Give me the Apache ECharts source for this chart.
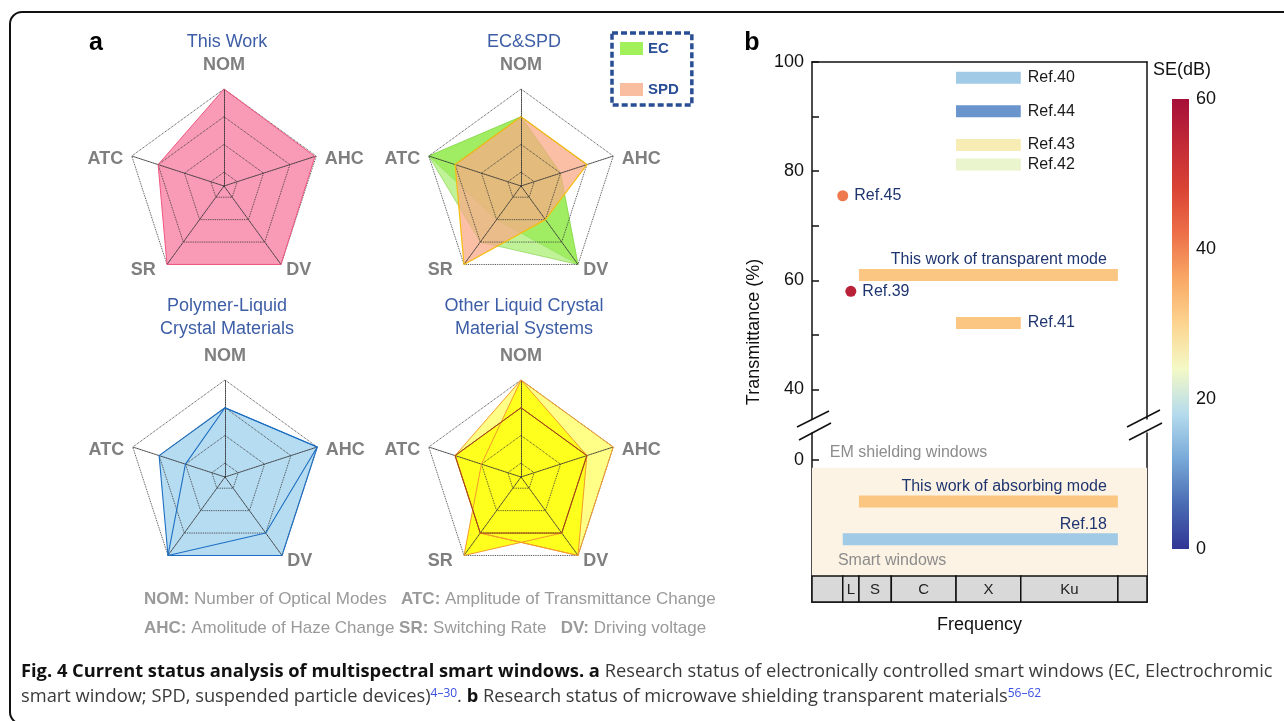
<!DOCTYPE html>
<html><head><meta charset="utf-8">
<script src="https://cdn.jsdelivr.net/npm/echarts@6/dist/echarts.min.js"></script>
<style>html,body{margin:0;padding:0;background:#fff;}#c{width:1284px;height:721px;}</style>
</head><body><div id="c"></div>
<script>
// ---------------- Panel a: radar data (order NOM, ATC, SR, DV, AHC; scale 1..4) ----------------
const radarAxes = ['NOM', 'ATC', 'SR', 'DV', 'AHC'];
const thisWork = [4, 3, 4, 4, 3.95];
const ec1 = [3, 4, 3, 4, 2];
const ec2 = [3, 4, 2, 4, 2];
const spd = [3, 3, 4, 2, 3];
const plcA = [3, 3, 4, 4, 4];
const plcB = [3, 2, 4, 3, 4];
const olcLight = [4, 3, 3, 4, 4];
const olcBright1 = [4, 2, 4, 3, 3];
const olcBright2 = [3, 3, 3, 4, 3];
const olcBright3 = [3, 3, 3, 3, 3];

// ---------------- Panel b data ----------------
const barNames = ['Ref.40', 'Ref.44', 'Ref.43', 'Ref.42', 'This work of transparent mode', 'Ref.41'];
const barFreqStart = [8, 8, 8, 8, 2, 8];      // GHz
const barFreqEnd = [12, 12, 12, 12, 18, 12];  // GHz
const barTrans = [97.1, 91.0, 84.8, 81.2, 61.0, 52.2]; // %
const barSE = [16, 10, 26, 23, 32, 32];       // dB
const pointNames = ['Ref.45', 'Ref.39'];
const pointFreq = [1, 1.5];
const pointTrans = [75.5, 58.0];
const pointSE = [41, 56];
const absNames = ['This work of absorbing mode', 'Ref.18'];
const absFreqStart = [2, 1];
const absFreqEnd = [18, 18];
const absRow = [-7.6, -14.5];
const absSE = [32, 16];
const bandNames = ['', 'L', 'S', 'C', 'X', 'Ku', ''];
const bandStart = [-0.9, 1, 2, 4, 8, 12, 18];
const bandEnd = [1, 2, 4, 8, 12, 18, 19.8];
const yTicksUpper = [40, 50, 60, 70, 80, 90, 100];
const yLabelsUpper = [40, 60, 80, 100];
const seColors = ['#313695', '#4a6cb3', '#78a9d8', '#b5dbed', '#f4f9c6', '#fcd590', '#f9a866', '#ed7049', '#da4434', '#c22a37', '#a50f38'];

const FONT = '"Liberation Sans", Arial, sans-serif';
const CAPFONT = '"Open Sans", sans-serif';
const NAVY = '#1f3570';

const chart = echarts.init(document.getElementById('c'), null, {renderer: 'canvas'});

const nameBase = {fontWeight: 'bold', fontSize: 18, fontFamily: FONT, color: '#7f7f7f'};
const nameKey = {NOM: 'top', ATC: 'side', AHC: 'side', SR: 'sr', DV: 'dv'};
function radarCfg(cx, cy, names) {
  return {
    center: [cx, cy], radius: 97, startAngle: 90, shape: 'polygon', splitNumber: 7, z: 3,
    indicator: names.map(n => ({name: n, min: 0.5, max: 4})),
    axisName: Object.assign({}, nameBase, {
      formatter: v => v ? '{' + nameKey[v] + '|' + v + '}' : '',
      rich: {
        top: Object.assign({}, nameBase, {padding: [0, 0, 6, 0]}),
        side: Object.assign({}, nameBase, {padding: [12, 0, 0, 0]}),
        sr: Object.assign({}, nameBase, {padding: [0, 6, 3, 0]}),
        dv: Object.assign({}, nameBase, {padding: [0, 0, 3, 0]})
      }
    }),
    axisNameGap: 9,
    splitArea: {show: false},
    splitLine: {lineStyle: {color: ['rgba(0,0,0,0)', '#333'], type: 'dotted', width: 0.9}},
    axisLine: {lineStyle: {color: '#333', type: 'dotted', width: 0.9}},
    axisTick: {show: false}, axisLabel: {show: false}
  };
}

const series = [];
function radarFill(ri, items) {
  series.push({type: 'radar', radarIndex: ri, z: 2, symbol: 'none', silent: true,
    data: items.map(it => ({name: it.name, value: it.value,
      lineStyle: it.line ? {color: it.line, width: it.lw || 0.8, opacity: it.lop || 1} : {width: 0},
      itemStyle: {color: it.fill},
      areaStyle: {color: it.fill, opacity: it.op == null ? 1 : it.op}}))});
}
function radarLine(ri, items) {
  series.push({type: 'radar', radarIndex: ri, z: 4, symbol: 'none', silent: true,
    data: items.map(it => ({name: it.name, value: it.value,
      itemStyle: {color: it.line}, lineStyle: {color: it.line, width: it.lw || 1}}))});
}
// radar 0 : This Work
radarFill(0, [{name: 'This Work', value: thisWork, fill: '#f99bb6'}]);
radarLine(0, [{name: 'This Work', value: thisWork, line: '#ef5680'}]);
// radar 1 : EC & SPD
radarFill(1, [
  {name: 'EC', value: ec1, fill: '#82e832', op: 0.5, line: '#6cc230', lw: 0.8, lop: 0.7},
  {name: 'EC', value: ec2, fill: '#82e832', op: 0.5, line: '#8ad850', lw: 0.8, lop: 0.6},
  {name: 'SPD', value: spd, fill: '#f8a986', op: 0.75}]);
radarLine(1, [{name: 'SPD', value: spd, line: '#f5bd10', lw: 1.2}]);
// radar 2 : Polymer-LC
radarFill(2, [{name: 'PLC-1', value: plcA, fill: '#b6dcf2'}, {name: 'PLC-2', value: plcB, fill: '#b6dcf2'}]);
radarLine(2, [{name: 'PLC-1', value: plcA, line: '#1e6fc2', lw: 1.1}, {name: 'PLC-2', value: plcB, line: '#1e6fc2', lw: 1.1}]);
// radar 3 : Other LC systems
radarFill(3, [{name: 'OLC-1', value: olcLight, fill: '#ffff88'}, {name: 'OLC-2', value: olcBright1, fill: '#ffff1e'},
  {name: 'OLC-3', value: olcBright2, fill: '#ffff1e'}, {name: 'OLC-4', value: olcBright3, fill: '#ffff1e'}]);
radarLine(3, [{name: 'OLC-1', value: olcLight, line: '#f39a2b'}, {name: 'OLC-2', value: olcBright1, line: '#f39a2b'},
  {name: 'OLC-3', value: olcBright2, line: '#f39a2b'}, {name: 'OLC-4', value: olcBright3, line: '#9a3d14'}]);

// ---------------- Panel b series ----------------
const labelStyles = {
  'Ref.40': {color: '#1a1a1a'}, 'Ref.44': {color: '#1a1a1a'}, 'Ref.43': {color: '#1a1a1a'}, 'Ref.42': {color: '#1a1a1a'},
  'Ref.41': {color: NAVY},
  'This work of transparent mode': {color: NAVY, top: true},
  'This work of absorbing mode': {color: NAVY, top: true},
  'Ref.18': {color: NAVY, top: true}
};
function barRender(names) {
  return function (params, api) {
    const p0 = api.coord([api.value(0), api.value(2)]);
    const p1 = api.coord([api.value(1), api.value(2)]);
    const h = 12;
    const name = names[params.dataIndex];
    const st = labelStyles[name] || {color: NAVY};
    return {type: 'group', children: [
      {type: 'rect', shape: {x: p0[0], y: p0[1] - h / 2, width: p1[0] - p0[0], height: h}, style: {fill: api.visual('color')}},
      {type: 'text', x: st.top ? p1[0] - 11 : p1[0] + 7, y: st.top ? p0[1] - h / 2 - 1 : p0[1],
        style: {text: name, fill: st.color, fontSize: 16, fontFamily: FONT,
          align: st.top ? 'right' : 'left', verticalAlign: st.top ? 'bottom' : 'middle'}}
    ]};
  };
}
const idxBars = series.length;
series.push({type: 'custom', xAxisIndex: 0, yAxisIndex: 0, z: 5, silent: true,
  renderItem: barRender(barNames),
  data: barNames.map((n, i) => [barFreqStart[i], barFreqEnd[i], barTrans[i], barSE[i]])});
const idxPts = series.length;
series.push({type: 'scatter', xAxisIndex: 0, yAxisIndex: 0, z: 5, silent: true, symbolSize: 11,
  itemStyle: {opacity: 1},
  label: {show: true, position: 'right', distance: 6, color: NAVY, fontSize: 16, fontFamily: FONT, formatter: p => p.name},
  data: pointNames.map((n, i) => ({name: n, value: [pointFreq[i], pointTrans[i], pointSE[i]]}))});
// zone shading + texts
series.push({type: 'custom', xAxisIndex: 1, yAxisIndex: 2, z: 1, silent: true,
  renderItem: function (params, api) {
    const a = api.coord([-0.9, -1.41]);
    const b = api.coord([19.8, -21.25]);
    const t1 = api.coord([0.2, 1.34]);
    const t2 = api.coord([0.7, -18.4]);
    return {type: 'group', children: [
      {type: 'rect', shape: {x: a[0], y: a[1], width: b[0] - a[0], height: b[1] - a[1]}, style: {fill: '#fcf3e4'}},
      {type: 'text', x: t1[0], y: t1[1], style: {text: 'EM shielding windows', fill: '#8c8c8c', fontSize: 16, fontFamily: FONT, verticalAlign: 'middle'}},
      {type: 'text', x: t2[0], y: t2[1], style: {text: 'Smart windows', fill: '#8c8c8c', fontSize: 16, fontFamily: FONT, verticalAlign: 'middle'}}
    ]};
  },
  data: [[0]]});
const idxAbs = series.length;
series.push({type: 'custom', xAxisIndex: 1, yAxisIndex: 2, z: 5, silent: true,
  renderItem: barRender(absNames),
  data: absNames.map((n, i) => [absFreqStart[i], absFreqEnd[i], absRow[i], absSE[i]])});
// frequency bands row
series.push({type: 'custom', xAxisIndex: 1, yAxisIndex: 2, z: 6, silent: true,
  renderItem: function (params, api) {
    const p0 = api.coord([api.value(0), -21.25]);
    const p1 = api.coord([api.value(1), -26.0]);
    return {type: 'group', children: [
      {type: 'rect', shape: {x: p0[0], y: p0[1], width: p1[0] - p0[0], height: p1[1] - p0[1]}, style: {fill: '#d9d9d9', stroke: '#111', lineWidth: 1.5}},
      {type: 'text', x: (p0[0] + p1[0]) / 2, y: (p0[1] + p1[1]) / 2 + 1, style: {text: bandNames[params.dataIndex], fill: '#222', fontSize: 15, fontFamily: FONT, align: 'center', verticalAlign: 'middle'}}
    ]};
  },
  data: bandNames.map((n, i) => [bandStart[i], bandEnd[i]])});
// colorbar
series.push({type: 'custom', xAxisIndex: 2, yAxisIndex: 4, silent: true,
  renderItem: function (params, api) {
    const p0 = api.coord([0, 60]);
    const p1 = api.coord([1, 0]);
    const n = seColors.length - 1;
    const stops = seColors.map((c, i) => ({offset: 1 - i / n, color: c})).reverse();
    return {type: 'rect', shape: {x: p0[0], y: p0[1], width: p1[0] - p0[0], height: p1[1] - p0[1]},
      style: {fill: new echarts.graphic.LinearGradient(0, 0, 0, 1, stops)}};
  },
  data: [[0]]});

const lineBlack = {show: true, onZero: false, lineStyle: {color: '#111', width: 1.5}};
const option = {
  animation: false,
  textStyle: {fontFamily: FONT},
  radar: [
    radarCfg(224, 186, radarAxes),
    radarCfg(521, 186, radarAxes),
    radarCfg(225, 477, ['NOM', 'ATC', '', 'DV', 'AHC']),
    radarCfg(521, 477, radarAxes)
  ],
  legend: {
    left: 612, top: 33, orient: 'vertical', selectedMode: false,
    data: [{name: 'EC', itemStyle: {color: '#a2f05a', borderWidth: 0}}, {name: 'SPD', itemStyle: {color: '#f9bda0', borderWidth: 0}}],
    icon: 'rect', itemWidth: 23, itemHeight: 13, itemGap: 26, padding: [8, 13, 8, 8],
    borderColor: '#2a4e94', borderWidth: 3.5, borderType: [6, 3],
    textStyle: {color: '#2a4e94', fontWeight: 'bold', fontSize: 15, fontFamily: FONT}
  },
  grid: [
    {left: 812, top: 62, width: 335, height: 357},
    {left: 812, top: 433, width: 335, height: 169},
    {left: 1172, top: 99, width: 17, height: 450}
  ],
  xAxis: [
    {gridIndex: 0, type: 'value', min: -0.9, max: 19.8, position: 'top', axisLine: lineBlack, axisTick: {show: false}, axisLabel: {show: false}, splitLine: {show: false}},
    {gridIndex: 1, type: 'value', min: -0.9, max: 19.8, position: 'bottom', axisLine: lineBlack, axisTick: {show: false}, axisLabel: {show: false}, splitLine: {show: false},
      name: 'Frequency', nameLocation: 'middle', nameGap: 14, nameTextStyle: {fontSize: 18, color: '#111', fontFamily: FONT}},
    {gridIndex: 2, type: 'value', min: 0, max: 1, show: false}
  ],
  yAxis: [
    {gridIndex: 0, type: 'value', min: 34.6, max: 100, position: 'left', axisLine: lineBlack,
      axisTick: {show: true, inside: true, length: 7, lineStyle: {color: '#111', width: 1.5}, customValues: yTicksUpper},
      axisLabel: {customValues: yLabelsUpper, fontSize: 18, color: '#111', margin: 8, fontFamily: FONT}, splitLine: {show: false}},
    {gridIndex: 0, type: 'value', min: 34.6, max: 100, position: 'right', axisLine: lineBlack,
      axisTick: {show: false}, axisLabel: {show: false}, splitLine: {show: false}},
    {gridIndex: 1, type: 'value', min: -26.0, max: 4.95, position: 'left', axisLine: lineBlack,
      axisTick: {show: true, inside: true, length: 7, lineStyle: {color: '#111', width: 1.5}, customValues: [0]},
      axisLabel: {customValues: [0], fontSize: 18, color: '#111', margin: 8, fontFamily: FONT}, splitLine: {show: false}},
    {gridIndex: 1, type: 'value', min: -26.0, max: 4.95, position: 'right', axisLine: lineBlack,
      axisTick: {show: false}, axisLabel: {show: false}, splitLine: {show: false}},
    {gridIndex: 2, type: 'value', min: 0, max: 60, interval: 20, position: 'right', axisLine: {show: false}, axisTick: {show: false},
      axisLabel: {fontSize: 18, color: '#111', margin: 7, fontFamily: FONT}, splitLine: {show: false}}
  ],
  visualMap: [
    {type: 'continuous', show: false, min: 0, max: 60, dimension: 3, seriesIndex: [idxBars, idxAbs], inRange: {color: seColors}},
    {type: 'continuous', show: false, min: 0, max: 60, dimension: 2, seriesIndex: [idxPts], inRange: {color: seColors}}
  ],
  series: series,
  graphic: [
    {type: 'rect', silent: true, shape: {x: 10, y: 12, width: 1300, height: 712, r: 12}, style: {fill: 'none', stroke: '#111', lineWidth: 2}},
    {type: 'text', x: 96, y: 43, style: {text: 'a', fill: '#000', fontSize: 25, fontWeight: 'bold', fontFamily: FONT, align: 'center', verticalAlign: 'middle'}},
    {type: 'text', x: 752, y: 43, style: {text: 'b', fill: '#000', fontSize: 25, fontWeight: 'bold', fontFamily: FONT, align: 'center', verticalAlign: 'middle'}},
    {type: 'text', x: 227, y: 42, style: {text: 'This Work', fill: '#3d5ea6', fontSize: 18, fontFamily: FONT, align: 'center', verticalAlign: 'middle'}},
    {type: 'text', x: 524, y: 42, style: {text: 'EC&SPD', fill: '#3d5ea6', fontSize: 18, fontFamily: FONT, align: 'center', verticalAlign: 'middle'}},
    {type: 'text', x: 227, y: 318, style: {text: 'Polymer-Liquid\nCrystal Materials', fill: '#3d5ea6', fontSize: 18, lineHeight: 23, fontFamily: FONT, align: 'center', verticalAlign: 'middle'}},
    {type: 'text', x: 524, y: 318, style: {text: 'Other Liquid Crystal\nMaterial Systems', fill: '#3d5ea6', fontSize: 18, lineHeight: 23, fontFamily: FONT, align: 'center', verticalAlign: 'middle'}},
    {type: 'text', x: 144, y: 599, style: {
      text: '{b|NOM:}{r| Number of Optical Modes   }{b|ATC:}{r| Amplitude of Transmittance Change}',
      verticalAlign: 'middle',
      rich: {b: {fontWeight: 'bold', fontSize: 17, fill: '#9a9a9a', fontFamily: FONT}, r: {fontSize: 17, fill: '#9a9a9a', fontFamily: FONT}}}},
    {type: 'text', x: 144, y: 628, style: {
      text: '{b|AHC:}{r| Amolitude of Haze Change }{b|SR:}{r| Switching Rate   }{b|DV:}{r| Driving voltage}',
      verticalAlign: 'middle',
      rich: {b: {fontWeight: 'bold', fontSize: 17, fill: '#9a9a9a', fontFamily: FONT}, r: {fontSize: 17, fill: '#9a9a9a', fontFamily: FONT}}}},
    {type: 'text', x: 754, y: 332, rotation: Math.PI / 2, style: {text: 'Transmittance (%)', fill: '#111', fontSize: 18, fontFamily: FONT, align: 'center', verticalAlign: 'middle'}},
    {type: 'text', x: 1153, y: 70, style: {text: 'SE(dB)', fill: '#111', fontSize: 18, fontFamily: FONT, verticalAlign: 'middle'}},
    {type: 'line', silent: true, shape: {x1: 797, y1: 427, x2: 829, y2: 411}, style: {stroke: '#111', lineWidth: 1.5}},
    {type: 'line', silent: true, shape: {x1: 799, y1: 440, x2: 831, y2: 423}, style: {stroke: '#111', lineWidth: 1.5}},
    {type: 'line', silent: true, shape: {x1: 1127, y1: 427, x2: 1160, y2: 410}, style: {stroke: '#111', lineWidth: 1.5}},
    {type: 'line', silent: true, shape: {x1: 1129, y1: 440, x2: 1162, y2: 423}, style: {stroke: '#111', lineWidth: 1.5}},
    {type: 'text', x: 21, y: 672, style: {
      text: '{b|Fig. 4 Current status analysis of multispectral smart windows. a}{r| Research status of electronically controlled smart windows (EC, Electrochromic}',
      verticalAlign: 'middle',
      rich: {b: {fontWeight: 'bold', fontSize: 18.3, fill: '#111', fontFamily: CAPFONT}, r: {fontSize: 18.3, fill: '#3a3a3a', fontFamily: CAPFONT}}}},
    {type: 'text', x: 21, y: 697, style: {
      text: '{r|smart window; SPD, suspended particle devices)}{s|4\u201330}{r|. }{b|b}{r| Research status of microwave shielding transparent materials}{s|56\u201362}',
      verticalAlign: 'middle',
      rich: {b: {fontWeight: 'bold', fontSize: 18.3, fill: '#111', fontFamily: CAPFONT},
        r: {fontSize: 18.3, fill: '#3a3a3a', fontFamily: CAPFONT},
        s: {fontSize: 12, fill: '#3b4fe0', fontFamily: CAPFONT, verticalAlign: 'top'}}}}
  ]
};
chart.setOption(option);
</script></body></html>
